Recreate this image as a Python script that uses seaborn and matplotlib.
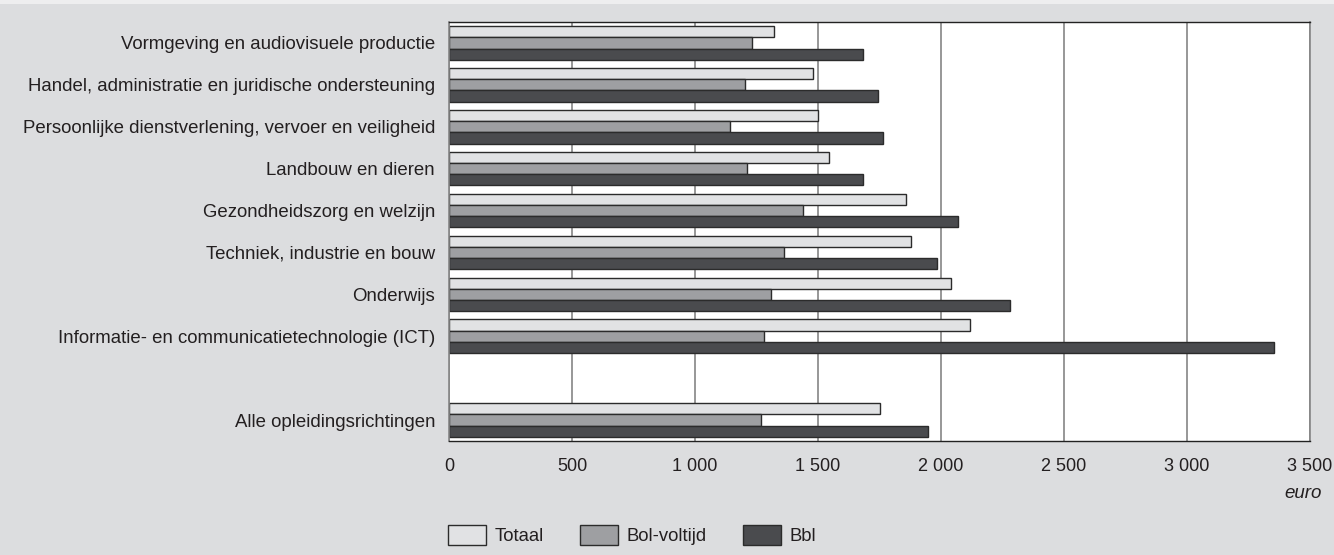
import matplotlib
matplotlib.use("Agg")
import matplotlib.pyplot as plt
import seaborn as sns
import pandas as pd
from matplotlib.ticker import FuncFormatter

categories = [
    "Vormgeving en audiovisuele productie",
    "Handel, administratie en juridische ondersteuning",
    "Persoonlijke dienstverlening, vervoer en veiligheid",
    "Landbouw en dieren",
    "Gezondheidszorg en welzijn",
    "Techniek, industrie en bouw",
    "Onderwijs",
    "Informatie- en communicatietechnologie (ICT)",
    "Alle opleidingsrichtingen",
]
totaal = [1320, 1481, 1502, 1543, 1859, 1880, 2040, 2119, 1750]
bol_voltijd = [1233, 1202, 1142, 1212, 1439, 1361, 1310, 1280, 1270]
bbl = [1684, 1743, 1763, 1684, 2070, 1982, 2281, 3352, 1949]
series = ["Totaal", "Bol-voltijd", "Bbl"]
xticks = [0, 500, 1000, 1500, 2000, 2500, 3000, 3500]

rows = []
for name, vals in zip(series, [totaal, bol_voltijd, bbl]):
    for c, v in zip(categories, vals):
        rows.append({"cat": c, "serie": name, "euro": v})
df = pd.DataFrame(rows)

order = categories[:8] + [" "] + categories[8:]

sns.set_theme(style="white")
plt.rcParams["font.family"] = ["Liberation Sans", "DejaVu Sans"]
txt = "#231f20"
bg = "#dcdddf"

fig = plt.figure(figsize=(13.34, 5.55), dpi=100, facecolor=bg)
fig.patches.append(plt.Rectangle((0, 1 - 4 / 555), 1, 4 / 555, transform=fig.transFigure,
                                 facecolor="#eeeeef", edgecolor="none", zorder=-1))
ax = fig.add_axes([449 / 1334, 1 - 441 / 555, (1310 - 449) / 1334, (441 - 22) / 555])
ax.set_facecolor("white")

palette = {"Totaal": "#e1e2e4", "Bol-voltijd": "#9e9fa2", "Bbl": "#4a4b4e"}
sns.barplot(data=df, y="cat", x="euro", hue="serie", order=order,
            hue_order=series, palette=palette, orient="h", width=0.8,
            edgecolor="#2b2b2b", linewidth=1.0, saturation=1, ax=ax,
            legend=True)

ax.set_xlim(0, 3500)
ax.set_ylim(9.5, -0.5)
ax.set_xticks(xticks)
ax.xaxis.set_major_formatter(FuncFormatter(lambda v, p: f"{int(v):,}".replace(",", " ")))
ax.set_axisbelow(True)
ax.grid(axis="x", color="#858585", linewidth=1.2)
ax.grid(axis="y", visible=False)
ax.set_xlabel("")
ax.set_ylabel("")

for s in ["top", "bottom"]:
    ax.spines[s].set_color("#222222")
    ax.spines[s].set_linewidth(1.0)
for s in ["left", "right"]:
    ax.spines[s].set_color("#858585")
    ax.spines[s].set_linewidth(1.2)

ax.tick_params(axis="x", direction="out", length=6, width=1, color="#555555",
               labelsize=13, labelcolor=txt, pad=6)
ax.tick_params(axis="y", length=0, labelsize=13.4, labelcolor=txt, pad=10)

fig.text(1322 / 1334, 1 - 493 / 555, "euro", ha="right", va="center",
         fontsize=13.5, style="italic", color=txt)

handles, labels = ax.get_legend_handles_labels()
ax.legend_.remove()
fig.legend(handles, labels, loc="center", bbox_to_anchor=(632 / 1334, 1 - 535 / 555),
           ncol=3, frameon=False, fontsize=13.3, handlelength=2.05, handleheight=1.25,
           handletextpad=0.43, columnspacing=2.0, labelcolor=txt)

fig.savefig("out.png", dpi=100, facecolor=bg)
